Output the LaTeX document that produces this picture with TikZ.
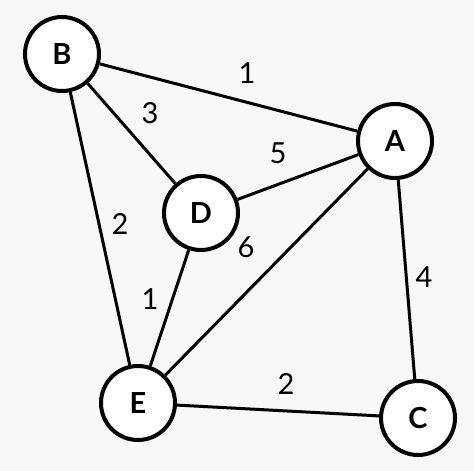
\documentclass[tikz,border=0pt]{standalone}
\usepackage{fontspec}
\setmainfont{Lato}
\begin{document}
\begin{tikzpicture}[x=1pt,y=-1pt,
  vert/.style={circle,draw=black,fill=white,line width=4pt,minimum size=74pt,inner sep=0pt,font=\fontsize{29}{32}\selectfont\bfseries},
  edge/.style={line width=3pt,black},
  wlabel/.style={font=\fontsize{29}{32}\selectfont,inner sep=0pt}]
\fill[fill={rgb,255:red,248;green,248;blue,248}] (0,0) rectangle (474,471);
\useasboundingbox (0,0) rectangle (474,471);
\node[vert] (B) at (62,54) {B};
\node[vert] (A) at (395,141) {A};
\node[vert] (D) at (201,213) {D};
\node[vert] (E) at (138,403) {E};
\node[vert] (C) at (418,418) {C};
\draw[edge] (B) -- (A);
\draw[edge] (B) -- (D);
\draw[edge] (B) -- (E);
\draw[edge] (D) -- (A);
\draw[edge] (D) -- (E);
\draw[edge] (A) -- (E);
\draw[edge] (A) -- (C);
\draw[edge] (E) -- (C);
\node[wlabel] (l1) at (247,73) {1};
\node[wlabel] (l2) at (150,113) {3};
\node[wlabel] (l3) at (278,153) {5};
\node[wlabel] (l4) at (120,224) {2};
\node[wlabel] (l5) at (246,247) {6};
\node[wlabel] (l6) at (150,299) {1};
\node[wlabel] (l7) at (424,277) {4};
\node[wlabel] (l8) at (286,384) {2};
\end{tikzpicture}
\end{document}
